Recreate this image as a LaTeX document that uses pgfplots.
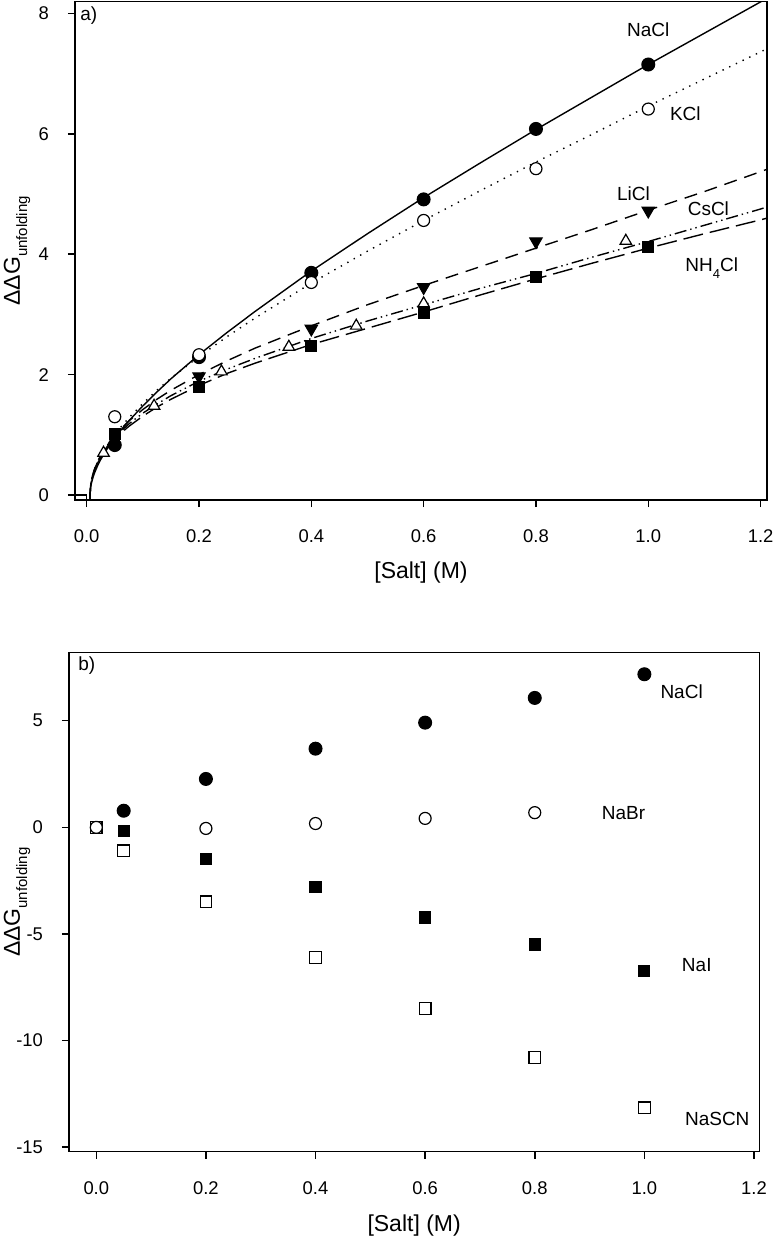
\documentclass[border=0pt]{standalone}
\usepackage{fontspec}
\setmainfont{Liberation Sans}
\usepackage{pgfplots}
\pgfplotsset{compat=1.18}
\tikzset{annot/.style={font=\fontsize{9.5}{10.5}\selectfont, inner sep=0pt}}
\pgfplotsset{
  myaxis/.style={
    scale only axis,
    anchor=north west,
    axis line style={line width=0.75pt},
    every tick/.style={line width=0.75pt, black},
    tick align=outside,
    major tick length=3.5pt,
    tick pos=left,
    tick label style={font=\fontsize{9.2}{10}\selectfont},
    xticklabel style={anchor=north, yshift=-8pt},
    yticklabel style={anchor=east, xshift=-6pt},
    label style={font=\fontsize{11.5}{13}\selectfont},
    xtick={0,0.2,0.4,0.6,0.8,1.0,1.2},
    xticklabels={0.0,0.2,0.4,0.6,0.8,1.0,1.2},
    clip=true,
  },
  nfill/.style={mark=*, mark size=3.2pt, mark options={fill=black, draw=black, line width=0.6pt, solid}},
  ocirc/.style={mark=*, mark size=3.0pt, mark options={fill=white, draw=black, line width=0.6pt, solid}},
  dtri/.style={mark=triangle*, mark size=3.6pt, mark options={fill=black, draw=black, line width=0.5pt, rotate=180, solid}},
  otri/.style={mark=triangle*, mark size=3.3pt, mark options={fill=white, draw=black, line width=0.6pt, solid}},
  fsq/.style={mark=square*, mark size=2.8pt, mark options={fill=black, draw=black, line width=0.5pt, solid}},
  osq/.style={mark=square*, mark size=2.9pt, mark options={fill=white, draw=black, line width=0.6pt, solid}},
}
\begin{document}
\begin{tikzpicture}
\path[use as bounding box] (0,0) rectangle (387pt,-619pt);

% ---------------- panel a ----------------
\begin{axis}[myaxis,
  at={(37.5pt,-0.85pt)},
  width=346pt, height=249.15pt,
  xmin=-0.0208, xmax=1.2114, ymin=-0.083, ymax=8.193,
  ytick={0,2,4,6,8}, yticklabels={0,2,4,6,8},
  xlabel={[Salt] (M)},
  ylabel={ΔΔG\raisebox{-0.32em}{\fontsize{7.5}{8}\selectfont unfolding}},
  xlabel style={at={(axis description cs:0.5,-0.1465)}, anchor=center},
  ylabel style={at={(axis description cs:-0.0838,0.5)}, anchor=center},
]
% fitted curves
\addplot[black, line width=0.7pt] coordinates {(0.0058,-0.09) (0.006,0) (0.007,0.12) (0.008,0.18) (0.01,0.25) (0.0125,0.33) (0.015,0.39) (0.02,0.50) (0.025,0.59) (0.03,0.67) (0.04,0.82) (0.05,0.95) (0.06,1.07) (0.075,1.23) (0.1,1.48) (0.125,1.71) (0.15,1.93) (0.2,2.33) (0.25,2.70) (0.3,3.05) (0.4,3.72) (0.5,4.34) (0.6,4.94) (0.7,5.51) (0.8,6.07) (0.9,6.61) (1.0,7.15) (1.1,7.67) (1.2,8.19) (1.22,8.29)};
\addplot[black, line width=0.7pt, dash pattern=on 0.7pt off 3pt] coordinates {(0.0058,-0.09) (0.006,0) (0.007,0.14) (0.008,0.20) (0.01,0.29) (0.0125,0.37) (0.015,0.43) (0.02,0.55) (0.025,0.64) (0.03,0.73) (0.04,0.87) (0.05,1.00) (0.06,1.12) (0.075,1.28) (0.1,1.52) (0.125,1.74) (0.15,1.94) (0.2,2.30) (0.25,2.63) (0.3,2.94) (0.4,3.52) (0.5,4.05) (0.6,4.56) (0.7,5.05) (0.8,5.53) (0.9,5.99) (1.0,6.46) (1.1,6.91) (1.2,7.36) (1.22,7.45)};
\addplot[black, line width=0.7pt, dash pattern=on 6.5pt off 4pt] coordinates {(0.0058,-0.09) (0.006,0) (0.007,0.16) (0.008,0.22) (0.01,0.31) (0.0125,0.39) (0.015,0.46) (0.02,0.57) (0.025,0.66) (0.03,0.74) (0.04,0.87) (0.05,0.99) (0.06,1.09) (0.075,1.23) (0.1,1.42) (0.125,1.59) (0.15,1.74) (0.2,2.00) (0.25,2.23) (0.3,2.44) (0.4,2.81) (0.5,3.16) (0.6,3.48) (0.7,3.79) (0.8,4.10) (0.9,4.41) (1.0,4.73) (1.1,5.04) (1.2,5.37) (1.22,5.44)};
\addplot[black, line width=0.7pt, dash pattern=on 6pt off 2pt on 0.7pt off 2pt on 0.7pt off 2pt] coordinates {(0.0058,-0.09) (0.006,0) (0.007,0.15) (0.008,0.22) (0.01,0.30) (0.0125,0.38) (0.015,0.45) (0.02,0.56) (0.025,0.64) (0.03,0.72) (0.04,0.85) (0.05,0.96) (0.06,1.05) (0.075,1.18) (0.1,1.36) (0.125,1.51) (0.15,1.65) (0.2,1.89) (0.25,2.09) (0.3,2.27) (0.4,2.60) (0.5,2.89) (0.6,3.16) (0.7,3.43) (0.8,3.68) (0.9,3.95) (1.0,4.21) (1.1,4.48) (1.2,4.75) (1.22,4.81)};
\addplot[black, line width=0.7pt, dash pattern=on 10pt off 3.5pt] coordinates {(0.0058,-0.09) (0.006,0) (0.007,0.15) (0.008,0.21) (0.01,0.29) (0.0125,0.37) (0.015,0.44) (0.02,0.54) (0.025,0.62) (0.03,0.70) (0.04,0.82) (0.05,0.93) (0.06,1.02) (0.075,1.14) (0.1,1.31) (0.125,1.46) (0.15,1.59) (0.2,1.82) (0.25,2.02) (0.3,2.19) (0.4,2.50) (0.5,2.77) (0.6,3.04) (0.7,3.32) (0.8,3.59) (0.9,3.85) (1.0,4.10) (1.1,4.34) (1.2,4.57) (1.22,4.62)};
% small corner mark at origin
\addplot[black, line width=0.6pt] coordinates {(-0.0208,0) (0,0) (0,-0.083)};
% data points
\addplot[only marks, nfill] coordinates {(0.05,0.83) (0.2,2.29) (0.4,3.69) (0.6,4.91) (0.8,6.08) (1.0,7.15)};
\addplot[only marks, ocirc] coordinates {(0.05,1.30) (0.2,2.33) (0.4,3.53) (0.6,4.56) (0.8,5.42) (1.0,6.41)};
\addplot[only marks, dtri] coordinates {(0.2,1.97) (0.4,2.76) (0.6,3.45) (0.8,4.21) (1.0,4.72)};
\addplot[only marks, otri] coordinates {(0.03,0.70) (0.12,1.48) (0.24,2.05) (0.36,2.46) (0.48,2.81) (0.6,3.18) (0.96,4.22)};
\addplot[only marks, fsq] coordinates {(0.05,1.01) (0.2,1.80) (0.4,2.47) (0.6,3.02) (0.8,3.62) (1.0,4.12)};
% labels
\node[annot] at (axis cs:1.0,7.72) {NaCl};
\node[annot] at (axis cs:1.066,6.34) {KCl};
\node[annot] at (axis cs:0.9735,5.01) {LiCl};
\node[annot] at (axis cs:1.107,4.76) {CsCl};
\node[annot, anchor=base] at (axis cs:1.113,3.71) {NH\raisebox{-0.35em}{\fontsize{6.5}{7}\selectfont 4}Cl};
\node[annot, anchor=west] at ([xshift=2.5pt,yshift=-7pt]rel axis cs:0,1) {a)};
\end{axis}

% ---------------- panel b ----------------
\begin{axis}[myaxis,
  at={(34.5pt,-326.35pt)},
  width=345.15pt, height=249.5pt,
  xmin=-0.0498, xmax=1.2097, ymin=-15.21, ymax=8.19,
  ytick={-15,-10,-5,0,5}, yticklabels={-15,-10,-5,0,5},
  xlabel={[Salt] (M)},
  ylabel={ΔΔG\raisebox{-0.32em}{\fontsize{7.5}{8}\selectfont unfolding}},
  xlabel style={at={(axis description cs:0.5,-0.1471)}, anchor=center},
  ylabel style={at={(axis description cs:-0.0753,0.5)}, anchor=center},
]
\addplot[only marks, osq] coordinates {(0,0) (0.05,-1.10) (0.2,-3.49) (0.4,-6.10) (0.6,-8.50) (0.8,-10.80) (1.0,-13.15)};
\addplot[only marks, ocirc] coordinates {(0,0) (0.2,-0.05) (0.4,0.18) (0.6,0.42) (0.8,0.69)};
\addplot[only marks, nfill] coordinates {(0.05,0.78) (0.2,2.27) (0.4,3.69) (0.6,4.91) (0.8,6.07) (1.0,7.18)};
\addplot[only marks, fsq] coordinates {(0.05,-0.16) (0.2,-1.49) (0.4,-2.78) (0.6,-4.23) (0.8,-5.49) (1.0,-6.75)};
\node[annot] at (axis cs:1.068,6.37) {NaCl};
\node[annot] at (axis cs:0.962,0.69) {NaBr};
\node[annot] at (axis cs:1.0956,-6.46) {NaI};
\node[annot] at (axis cs:1.133,-13.66) {NaSCN};
\node[annot, anchor=west] at ([xshift=4.5pt,yshift=-6.2pt]rel axis cs:0,1) {b)};
\end{axis}
\end{tikzpicture}
\end{document}
